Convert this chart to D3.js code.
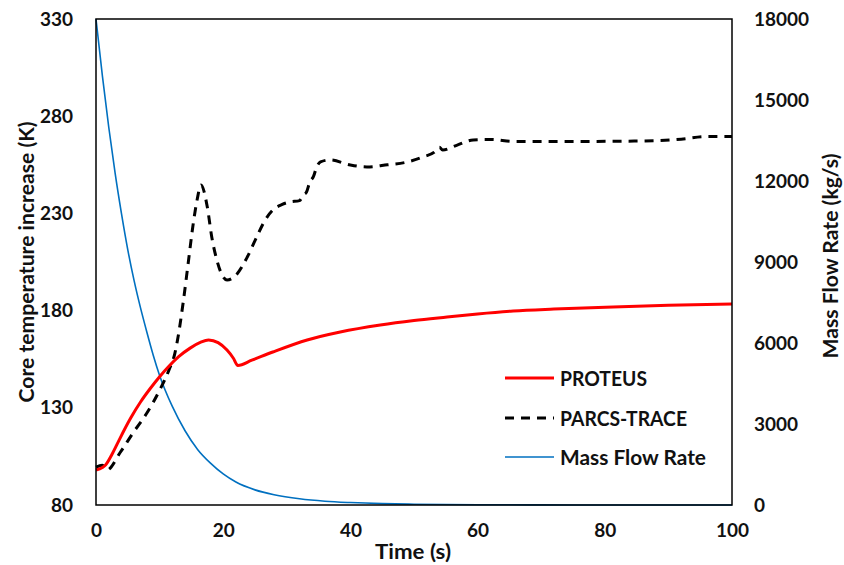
<!DOCTYPE html>
<html>
<head>
<meta charset="utf-8">
<script src="https://cdn.jsdelivr.net/npm/d3@7"></script>
<style>
  html, body { margin: 0; padding: 0; background: #fff; }
  text { font-family: Lato, "Open Sans", sans-serif; font-weight: 700; fill: #111; }
</style>
</head>
<body>
<svg id="chart" width="844" height="565"></svg>
<script>
// ---------- data ----------
const xTicks = [0, 20, 40, 60, 80, 100];
const leftTicks = [80, 130, 180, 230, 280, 330];
const rightTicks = [0, 3000, 6000, 9000, 12000, 15000, 18000];

const proteusT = [0, 1, 1.5, 2.5, 3.5, 4.5, 5.5, 7, 8.5, 10, 11.5, 13, 14.8, 16.4, 17.7, 19.2, 20.6, 21.6, 22.3, 24.5, 27.8, 33.2, 38.4, 44.7, 50, 55.2, 60, 65.6, 72, 81.3, 90, 100];
const proteusV = [98, 99.3, 100.6, 106, 112.5, 119, 125, 133, 139.8, 146, 151.5, 156.3, 160.7, 163.6, 164.9, 163.5, 159.7, 155.5, 151.8, 154.5, 158.7, 164.9, 169, 172.6, 174.9, 176.7, 178.3, 179.8, 180.8, 181.9, 182.7, 183.4];

const parcsT = [0, 1, 1.7, 3.8, 5.8, 8, 10, 11.6, 12.4, 12.9, 13.7, 14.5, 15.3, 15.9, 16.5, 17.5, 18.2, 19, 20, 20.6, 22.2, 23.7, 25, 26.6, 27.8, 29.2, 30.5, 32, 32.6, 33.1, 33.6, 34.2, 34.7, 35.3, 36.8, 40, 42.6, 45.8, 48.9, 51.4, 53.2, 54, 54.5, 56.7, 59.3, 62.2, 65.6, 75, 85, 92, 96, 100];
const parcsV = [99.5, 100.5, 98, 107, 117, 127.3, 139, 150.5, 158, 166.4, 184, 204.5, 225, 237, 244.6, 233.3, 217.9, 206, 197.3, 195.7, 199, 207, 216, 226.6, 231.7, 234.5, 235.9, 236.6, 239.5, 241, 246, 249, 253.9, 256.5, 257.5, 254.9, 253.9, 255, 256.4, 259, 261.5, 264, 262.6, 265, 267.8, 268, 267, 267, 267.2, 268.2, 269.5, 269.5];

const flowT = [0, 1, 2, 3, 4, 5, 6, 7, 8, 9, 10, 12, 14, 16, 18, 20, 22, 25, 28, 32, 36, 40, 45, 50, 60, 70, 80, 100];
const flowV = [18000, 15900, 14000, 12300, 10800, 9450, 8300, 7300, 6400, 5550, 4800, 3650, 2750, 2050, 1550, 1150, 850, 560, 380, 230, 140, 90, 50, 30, 10, 4, 2, 0];

const legendLabels = ["PROTEUS", "PARCS-TRACE", "Mass Flow Rate"];

// ---------- layout ----------
const svg = d3.select("#chart");
const m = { left: 96, top: 19, right: 732, bottom: 505 };

const x = d3.scaleLinear().domain([0, 100]).range([m.left, m.right]);
const yL = d3.scaleLinear().domain([80, 330]).range([m.bottom, m.top]);
const yR = d3.scaleLinear().domain([0, 18000]).range([m.bottom, m.top]);

const proteus = proteusT.map((t, i) => [t, proteusV[i]]);
const parcs = parcsT.map((t, i) => [t, parcsV[i]]);
const flow = flowT.map((t, i) => [t, flowV[i]]);

const lineL = d3.line().x(d => x(d[0])).y(d => yL(d[1])).curve(d3.curveMonotoneX);
const lineR = d3.line().x(d => x(d[0])).y(d => yR(d[1])).curve(d3.curveMonotoneX);

svg.append("path").datum(flow).attr("d", lineR)
  .attr("fill", "none").attr("stroke", "#0070C0").attr("stroke-width", 1.6);

svg.append("path").datum(parcs).attr("d", lineL)
  .attr("fill", "none").attr("stroke", "#000").attr("stroke-width", 3)
  .attr("stroke-dasharray", "9,7");

svg.append("path").datum(proteus).attr("d", lineL)
  .attr("fill", "none").attr("stroke", "#FF0000").attr("stroke-width", 3);

// frame
svg.append("rect").attr("x", m.left).attr("y", m.top)
  .attr("width", m.right - m.left).attr("height", m.bottom - m.top)
  .attr("fill", "none").attr("stroke", "#000").attr("stroke-width", 1.5);

// axes (labels only, no tick marks)
const fmt = d3.format("d");
const axL = d3.axisLeft(yL).tickValues(leftTicks).tickFormat(fmt).tickSize(0).tickPadding(23);
const gL = svg.append("g").attr("transform", `translate(${m.left},0)`).call(axL);
const axR = d3.axisRight(yR).tickValues(rightTicks).tickFormat(fmt).tickSize(0).tickPadding(22);
const gR = svg.append("g").attr("transform", `translate(${m.right},0)`).call(axR);
const axB = d3.axisBottom(x).tickValues(xTicks).tickFormat(fmt).tickSize(0).tickPadding(19);
const gB = svg.append("g").attr("transform", `translate(0,${m.bottom})`).call(axB);
[gL, gR, gB].forEach(g => {
  g.select(".domain").remove();
  g.selectAll("text").style("font-family", "Lato, sans-serif").style("font-weight", 700)
    .style("font-size", "19px").attr("fill", "#111");
});

// axis titles
svg.append("text").attr("transform", "translate(26,262) rotate(-90)")
  .attr("text-anchor", "middle").attr("dominant-baseline", "central")
  .attr("textLength", 281).attr("lengthAdjust", "spacingAndGlyphs")
  .style("font-size", "20px").text("Core temperature increase (K)");
svg.append("text").attr("transform", "translate(830,256) rotate(-90)")
  .attr("text-anchor", "middle").attr("dominant-baseline", "central")
  .attr("textLength", 205).attr("lengthAdjust", "spacingAndGlyphs")
  .style("font-size", "20px").text("Mass Flow Rate (kg/s)");
svg.append("text").attr("x", 413).attr("y", 551)
  .attr("text-anchor", "middle").attr("dominant-baseline", "central")
  .attr("textLength", 76).attr("lengthAdjust", "spacingAndGlyphs")
  .style("font-size", "20px").text("Time (s)");

// legend
const legY = [378, 418, 457];
const legLen = [87, 127, 146];
const legStyles = [
  { stroke: "#FF0000", w: 3, dash: null },
  { stroke: "#000", w: 3, dash: "9,7" },
  { stroke: "#0070C0", w: 1.6, dash: null }
];
legendLabels.forEach((lab, i) => {
  svg.append("line").attr("x1", 505).attr("x2", 554).attr("y1", legY[i]).attr("y2", legY[i])
    .attr("stroke", legStyles[i].stroke).attr("stroke-width", legStyles[i].w)
    .attr("stroke-dasharray", legStyles[i].dash);
  svg.append("text").attr("x", 560).attr("y", legY[i]).attr("dominant-baseline", "central")
    .attr("textLength", legLen[i]).attr("lengthAdjust", "spacingAndGlyphs")
    .style("font-size", "20px").text(lab);
});
</script>
</body>
</html>
